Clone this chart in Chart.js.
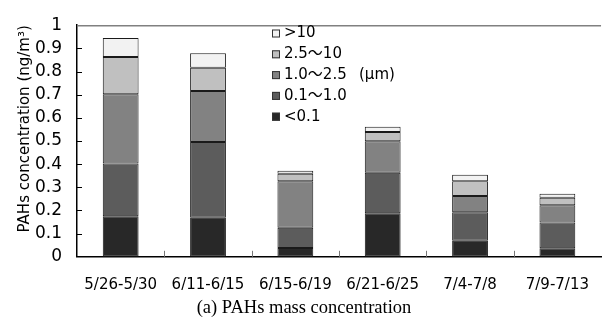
<!DOCTYPE html>
<html>
<head>
<meta charset="utf-8">
<script src="https://cdn.jsdelivr.net/npm/chart.js@4"></script>
<style>
  html, body { margin: 0; padding: 0; background: #fff; }
  canvas { display: block; }
</style>
</head>
<body>
<canvas id="grafico" width="608" height="327"></canvas>
<script>
// Datos
const periodos = ['5/26-5/30', '6/11-6/15', '6/15-6/19', '6/21-6/25', '7/4-7/8', '7/9-7/13'];
const menos01 = [0.175, 0.169, 0.038, 0.188, 0.069, 0.037];
const de01a10 = [0.228, 0.327, 0.087, 0.175, 0.123, 0.111];
const de10a25 = [0.299, 0.220, 0.201, 0.136, 0.071, 0.075];
const de25a10 = [0.161, 0.100, 0.033, 0.040, 0.063, 0.032];
const mas10 = [0.082, 0.063, 0.013, 0.023, 0.028, 0.017];
const ticksY = ['0', '0.1', '0.2', '0.3', '0.4', '0.5', '0.6', '0.7', '0.8', '0.9', '1'];

Chart.defaults.font.family = "'DejaVu Sans', 'Noto Sans CJK JP', sans-serif";
Chart.defaults.color = '#000';

function serie(etiqueta, datos, relleno) {
    return {
        label: etiqueta,
        data: datos,
        backgroundColor: relleno,
        borderColor: '#1a1a1a',
        borderWidth: 1,
        borderSkipped: false,
        barPercentage: 0.41,
        categoryPercentage: 1
    };
}

// Marcas hacia dentro, linea superior y leyenda dentro del area
const extras = {
    id: 'extras',
    afterDraw(chart) {
        const ctx = chart.ctx;
        const area = chart.chartArea;
        const x = chart.scales.x;
        const y = chart.scales.y;
        ctx.save();
        // linea superior gris
        ctx.strokeStyle = '#808080';
        ctx.lineWidth = 1.5;
        ctx.beginPath();
        ctx.moveTo(area.left, area.top + 0.5);
        ctx.lineTo(area.right, area.top + 0.5);
        ctx.stroke();
        // marcas eje y
        ctx.strokeStyle = '#000';
        ctx.lineWidth = 1;
        for (let i = 1; i < ticksY.length - 1; i++) {
            const py = Math.round(y.getPixelForValue(i / 10)) + 0.5;
            ctx.beginPath();
            ctx.moveTo(area.left, py);
            ctx.lineTo(area.left + 5, py);
            ctx.stroke();
        }
        // marcas eje x entre categorias
        ctx.strokeStyle = '#777';
        for (let i = 0; i < periodos.length - 1; i++) {
            const px = Math.round((x.getPixelForValue(i) + x.getPixelForValue(i + 1)) / 2) + 0.5;
            ctx.beginPath();
            ctx.moveTo(px, area.bottom);
            ctx.lineTo(px, area.bottom - 6);
            ctx.stroke();
        }
        // leyenda
        const series = chart.data.datasets.slice().reverse();
        ctx.font = "15px 'DejaVu Sans', 'Noto Sans CJK JP', sans-serif";
        ctx.textBaseline = 'middle';
        ctx.textAlign = 'left';
        series.forEach((ds, i) => {
            const cy = 33.5 + i * 20.8;
            ctx.fillStyle = ds.backgroundColor;
            ctx.fillRect(272, cy - 4, 8, 8);
            ctx.strokeStyle = '#333';
            ctx.strokeRect(272.5, cy - 3.5, 7, 7);
            ctx.fillStyle = '#000';
            ctx.fillText(ds.label, 284, cy);
            if (i === 2) ctx.fillText('(μm)', 359, cy);
        });
        ctx.restore();
    }
};

new Chart(document.getElementById('grafico'), {
    type: 'bar',
    data: {
        labels: periodos,
        datasets: [
            serie('<0.1', menos01, '#282828'),
            serie('0.1～1.0', de01a10, '#5c5c5c'),
            serie('1.0～2.5', de10a25, '#828282'),
            serie('2.5～10', de25a10, '#c0c0c0'),
            serie('>10', mas10, '#f2f2f2')
        ]
    },
    options: {
        responsive: false,
        animation: false,
        layout: { padding: { top: 19, right: 0, left: 0, bottom: 0 } },
        plugins: {
            legend: { display: false },
            tooltip: { enabled: false },
            title: {
                display: true,
                position: 'bottom',
                text: '(a) PAHs mass concentration',
                color: '#000',
                font: { family: "'Liberation Serif', 'Times New Roman', serif", size: 18.5, weight: 'normal' },
                padding: { top: 0, bottom: 8 }
            }
        },
        scales: {
            x: {
                stacked: true,
                grid: { display: false, drawTicks: false },
                border: { color: '#000', width: 1.5 },
                ticks: { font: { size: 15 }, padding: 19, maxRotation: 0, autoSkip: false },
                afterFit(s) { s.height = 40; }
            },
            y: {
                stacked: true,
                min: 0,
                max: 1,
                grid: { display: false, drawTicks: false },
                border: { color: '#000', width: 1.5 },
                ticks: {
                    stepSize: 0.1,
                    autoSkip: false,
                    padding: 15,
                    font: { size: 17 },
                    callback: (v, i) => ticksY[i]
                },
                title: {
                    display: true,
                    text: 'PAHs concentration (ng/m³)',
                    align: 'end',
                    font: { size: 15 },
                    padding: { top: 16, bottom: 0 }
                },
                afterFit(s) { s.width = 77; }
            }
        }
    },
    plugins: [extras]
});
</script>
</body>
</html>
